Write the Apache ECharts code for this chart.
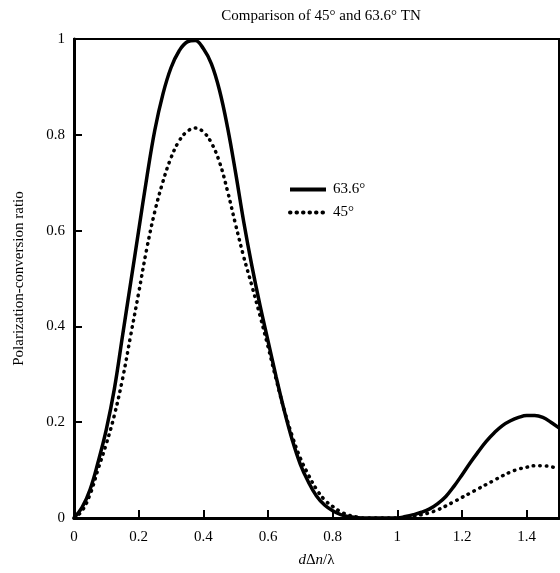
<!DOCTYPE html>
<html>
<head>
<meta charset="utf-8">
<script src="https://cdn.jsdelivr.net/npm/echarts@6/dist/echarts.min.js"></script>
<style>
  html, body { margin: 0; padding: 0; background: #fff; }
  #chart { width: 560px; height: 573px; }
</style>
</head>
<body>
<div id="chart"></div>
<script>
  // retardation dΔn/λ
  const xValues = [0, 0.025, 0.05, 0.075, 0.1, 0.125, 0.15, 0.175, 0.2, 0.225, 0.25, 0.275, 0.3, 0.325, 0.35, 0.375,
    0.4, 0.425, 0.45, 0.475, 0.5, 0.525, 0.55, 0.575, 0.6, 0.625, 0.65, 0.675, 0.7, 0.725, 0.75, 0.775,
    0.8, 0.825, 0.85, 0.875, 0.9, 0.95, 1.0, 1.025, 1.05, 1.075, 1.1, 1.125, 1.15, 1.175,
    1.2, 1.225, 1.25, 1.275, 1.3, 1.325, 1.35, 1.375, 1.4, 1.425, 1.45, 1.475, 1.5];
  // 63.6° TN
  const tn636 = [0, 0.022, 0.06, 0.118, 0.185, 0.27, 0.38, 0.49, 0.6, 0.71, 0.81, 0.885, 0.94, 0.975, 0.994, 0.997,
    0.98, 0.948, 0.893, 0.815, 0.72, 0.618, 0.527, 0.445, 0.37, 0.295, 0.225, 0.163, 0.112, 0.075, 0.046, 0.027,
    0.015, 0.007, 0.003, 0.001, 0, 0, 0, 0.003, 0.007, 0.012, 0.019, 0.03, 0.045, 0.066,
    0.09, 0.115, 0.138, 0.16, 0.178, 0.193, 0.203, 0.21, 0.214, 0.214, 0.21, 0.2, 0.188];
  // 45° TN
  const tn45 = [0, 0.015, 0.05, 0.103, 0.155, 0.215, 0.29, 0.38, 0.47, 0.562, 0.64, 0.702, 0.752, 0.787, 0.807, 0.814,
    0.806, 0.783, 0.743, 0.682, 0.612, 0.545, 0.485, 0.423, 0.358, 0.29, 0.226, 0.171, 0.125, 0.09, 0.06, 0.038,
    0.024, 0.013, 0.006, 0.002, 0, 0, 0, 0.001, 0.004, 0.007, 0.011, 0.017, 0.025, 0.034,
    0.043, 0.052, 0.061, 0.07, 0.079, 0.088, 0.096, 0.102, 0.106, 0.109, 0.109, 0.107, 0.103];
  const seriesNames = ["63.6°", "45°"];

  const font = "'Liberation Serif', 'DejaVu Serif', serif";
  let chart = echarts.init(document.getElementById("chart"), null, {renderer: "canvas"});

  let option = {
    backgroundColor: "#fff",
    animation: false,
    title: {
      text: "Comparison of 45° and 63.6° TN",
      left: 316,
      top: 4,
      textAlign: "center",
      textStyle: {fontFamily: font, fontSize: 15, fontWeight: "normal", color: "#000"},
    },
    legend: {
      data: seriesNames,
      orient: "vertical",
      left: 283,
      top: 177,
      itemWidth: 36,
      itemHeight: 10,
      itemGap: 8,
      itemStyle: {opacity: 0},
      lineStyle: {width: 4},
      textStyle: {fontFamily: font, fontSize: 15, color: "#000", padding: [0, 0, 0, 2]},
    },
    grid: {
      left: 74,
      top: 39,
      right: 1,
      bottom: 54,
      show: true,
      borderColor: "#000",
      borderWidth: 2,
    },
    xAxis: {
      type: "value",
      min: 0,
      max: 1.5,
      interval: 0.2,
      name: "{i|d}{n|Δ}{i|n}{n|/λ}",
      nameLocation: "middle",
      nameGap: 35,
      nameTextStyle: {
        rich: {
          i: {fontFamily: font, fontSize: 15, fontStyle: "italic", color: "#000"},
          n: {fontFamily: font, fontSize: 15, color: "#000"},
        },
      },
      splitLine: {show: false},
      axisLine: {lineStyle: {color: "#000", width: 3}},
      axisTick: {inside: true, length: 8, lineStyle: {color: "#000", width: 2}},
      axisLabel: {
        showMaxLabel: false,
        margin: 12,
        fontFamily: font, fontSize: 15, color: "#000",
      },
    },
    yAxis: {
      type: "value",
      min: 0,
      max: 1,
      interval: 0.2,
      name: "Polarization-conversion ratio",
      nameLocation: "middle",
      nameGap: 47,
      nameTextStyle: {fontFamily: font, fontSize: 15, color: "#000"},
      splitLine: {show: false},
      axisLine: {lineStyle: {color: "#000", width: 3}},
      axisTick: {inside: true, length: 8, lineStyle: {color: "#000", width: 2}},
      axisLabel: {margin: 9, fontFamily: font, fontSize: 15, color: "#000"},
    },
    series: [
      {
        name: seriesNames[0],
        type: "line",
        smooth: 0.4,
        symbol: "none",
        data: xValues.map((x, i) => [x, tn636[i]]),
        lineStyle: {color: "#000", width: 3.5},
        itemStyle: {color: "#000"},
      },
      {
        name: seriesNames[1],
        type: "line",
        smooth: 0.4,
        symbol: "none",
        data: xValues.map((x, i) => [x, tn45[i]]),
        lineStyle: {color: "#000", width: 3.5, type: [0.5, 6], cap: "round"},
        itemStyle: {color: "#000"},
      },
    ],
  };
  chart.setOption(option);
</script>
</body>
</html>
